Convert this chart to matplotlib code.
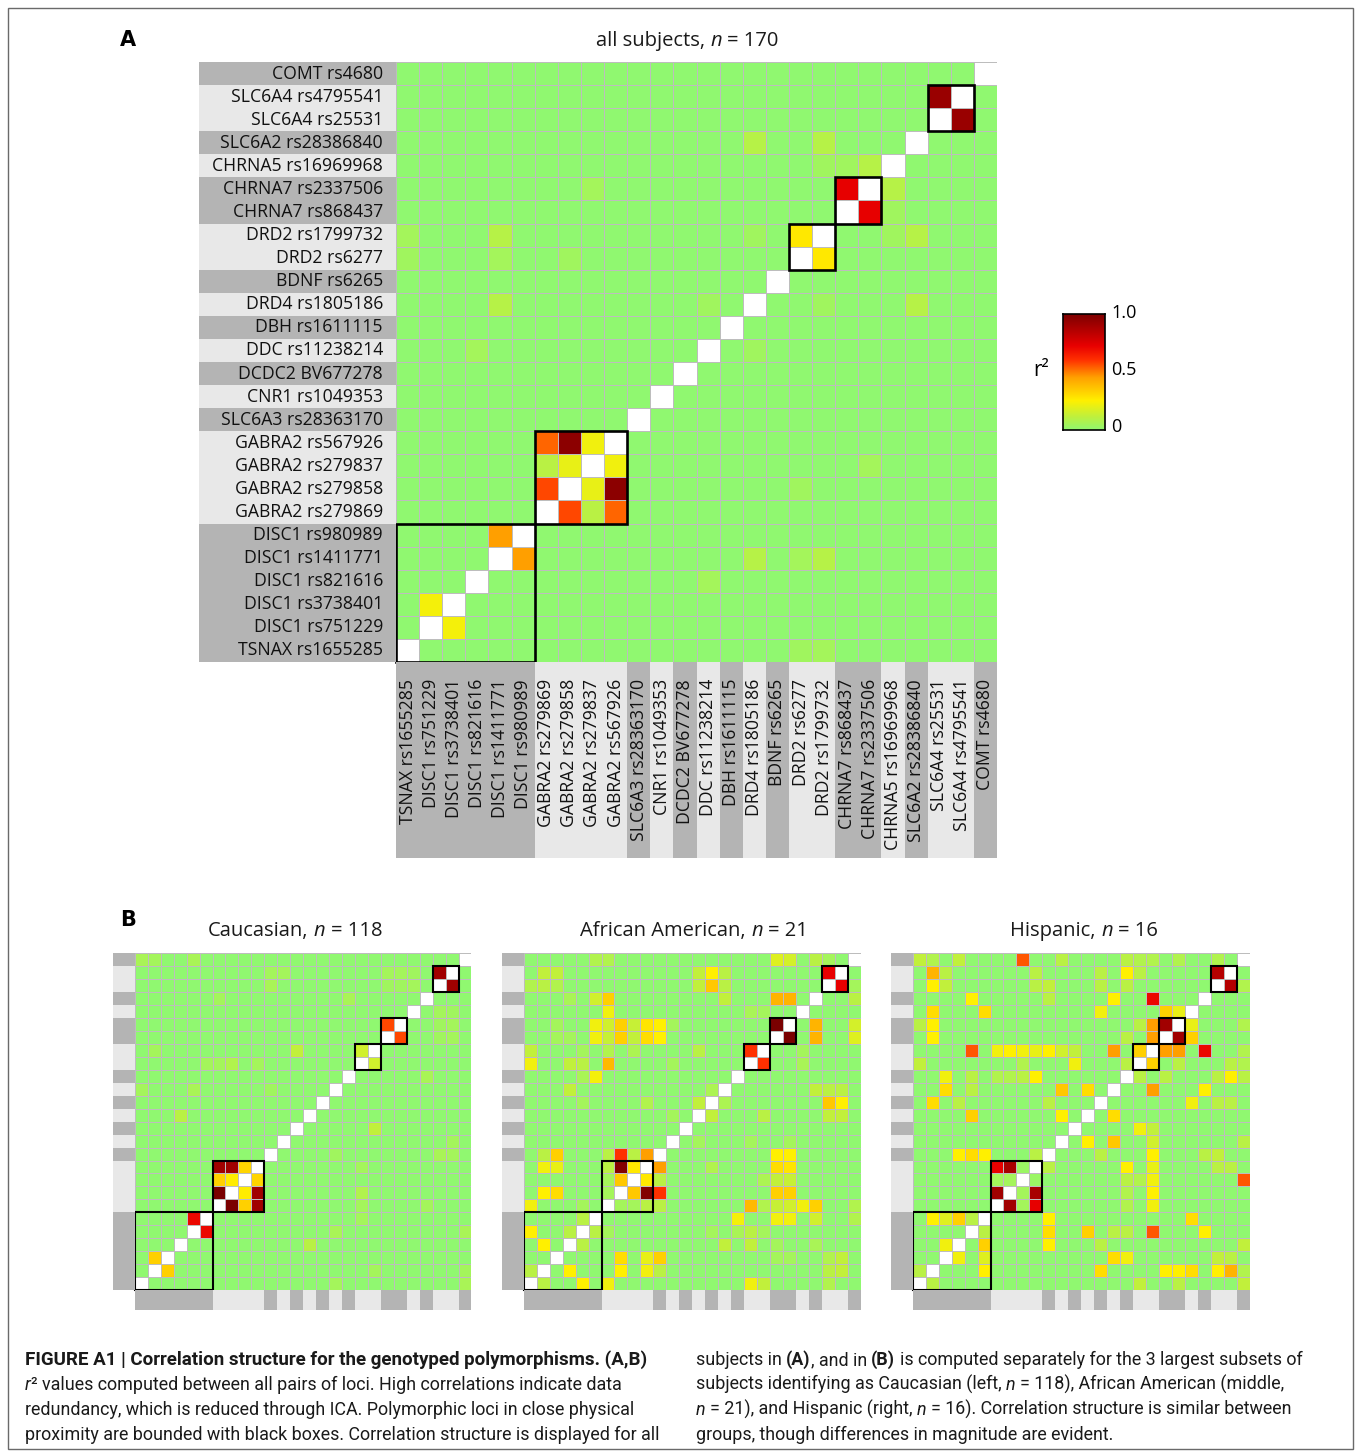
import numpy as np
import matplotlib
matplotlib.use("Agg")
import matplotlib.pyplot as plt
from matplotlib.colors import LinearSegmentedColormap
from matplotlib.patches import Rectangle
from matplotlib import font_manager

# ---------------------------------------------------------------- data
loci = ["TSNAX rs1655285", "DISC1 rs751229", "DISC1 rs3738401", "DISC1 rs821616",
        "DISC1 rs1411771", "DISC1 rs980989", "GABRA2 rs279869", "GABRA2 rs279858",
        "GABRA2 rs279837", "GABRA2 rs567926", "SLC6A3 rs28363170", "CNR1 rs1049353",
        "DCDC2 BV677278", "DDC rs11238214", "DBH rs1611115", "DRD4 rs1805186",
        "BDNF rs6265", "DRD2 rs6277", "DRD2 rs1799732", "CHRNA7 rs868437",
        "CHRNA7 rs2337506", "CHRNA5 rs16969968", "SLC6A2 rs28386840",
        "SLC6A4 rs25531", "SLC6A4 rs4795541", "COMT rs4680"]

# consecutive loci sharing a shaded band (multi-locus bands are boxed)
band_sizes = [6, 4, 1, 1, 1, 1, 1, 1, 1, 2, 2, 1, 1, 2, 1]

# r^2 between locus pairs (index into loci); unlisted pairs are ~0
r2_all = [
    (24, 23, 0.92), (20, 19, 0.72), (18, 17, 0.27),
    (9, 6, 0.53), (9, 7, 0.95), (9, 8, 0.22), (8, 6, 0.10), (8, 7, 0.20), (7, 6, 0.57),
    (5, 4, 0.45), (2, 1, 0.23),
    (22, 15, 0.09), (22, 18, 0.09), (21, 18, 0.04), (21, 19, 0.04), (21, 20, 0.09),
    (20, 8, 0.05), (18, 0, 0.05), (18, 4, 0.09), (18, 15, 0.04), (17, 0, 0.04),
    (17, 4, 0.05), (17, 7, 0.04), (15, 4, 0.09), (15, 13, 0.04), (13, 3, 0.05),
]

r2_caucasian = [
    (24, 23, 0.90), (20, 19, 0.57), (18, 17, 0.15),
    (9, 6, 0.90), (9, 7, 0.90), (9, 8, 0.32), (8, 6, 0.33), (8, 7, 0.26), (7, 6, 1.00),
    (5, 4, 0.70), (2, 1, 0.33),
    (25, 0, 0.06), (25, 1, 0.05), (25, 4, 0.06), (24, 10, 0.05), (24, 11, 0.05),
    (24, 19, 0.05), (24, 20, 0.05), (24, 21, 0.04), (23, 10, 0.06), (23, 19, 0.04),
    (23, 20, 0.04), (23, 21, 0.05), (22, 6, 0.05), (22, 16, 0.06), (18, 1, 0.05),
    (18, 12, 0.12), (17, 5, 0.05), (17, 6, 0.05), (17, 7, 0.08), (17, 9, 0.05),
    (15, 0, 0.05), (15, 4, 0.06), (15, 10, 0.04), (13, 3, 0.10),
]

r2_african_american = [
    (24, 23, 0.72), (20, 19, 1.00), (18, 17, 0.60),
    (9, 6, 0.10), (9, 7, 0.98), (9, 8, 0.27), (8, 6, 0.05), (8, 7, 0.35), (7, 6, 0.05),
    (5, 4, 0.10), (4, 3, 0.10), (4, 0, 0.25), (3, 1, 0.25), (1, 0, 0.10),
    (25, 5, 0.08), (25, 6, 0.08), (25, 19, 0.18), (25, 20, 0.16), (25, 22, 0.10),
    (25, 23, 0.05), (24, 1, 0.12), (24, 2, 0.12), (24, 13, 0.12), (24, 14, 0.25),
    (24, 15, 0.10), (23, 0, 0.08), (23, 1, 0.10), (23, 2, 0.08), (23, 13, 0.12),
    (23, 14, 0.35), (23, 15, 0.10), (22, 3, 0.06), (22, 5, 0.15), (22, 6, 0.33),
    (22, 15, 0.12), (22, 19, 0.40), (22, 20, 0.40), (21, 6, 0.22), (21, 17, 0.06),
    (21, 18, 0.05), (20, 2, 0.05), (20, 5, 0.22), (20, 6, 0.15), (20, 7, 0.33),
    (20, 8, 0.13), (20, 9, 0.28), (20, 10, 0.25), (20, 11, 0.05), (19, 2, 0.05),
    (19, 3, 0.05), (19, 5, 0.22), (19, 6, 0.13), (19, 7, 0.33), (19, 8, 0.12),
    (19, 9, 0.30), (19, 10, 0.25), (18, 0, 0.12), (18, 4, 0.05), (18, 6, 0.08),
    (18, 8, 0.07), (18, 13, 0.10), (17, 0, 0.22), (17, 3, 0.12), (17, 4, 0.10),
    (17, 6, 0.39), (17, 11, 0.05), (16, 4, 0.06), (16, 5, 0.23), (15, 3, 0.12),
    (15, 14, 0.07), (14, 4, 0.05), (14, 9, 0.08), (14, 13, 0.12), (13, 11, 0.05),
    (10, 1, 0.10), (10, 2, 0.33), (10, 6, 0.10), (10, 7, 0.60), (10, 8, 0.10),
    (10, 9, 0.45), (9, 1, 0.22), (9, 2, 0.20), (7, 1, 0.25), (7, 2, 0.30),
    (6, 0, 0.22), (6, 4, 0.05),
]

r2_hispanic = [
    (24, 23, 0.85), (20, 19, 0.90), (18, 17, 0.33),
    (9, 6, 0.72), (9, 7, 0.88), (9, 8, 0.03), (8, 6, 0.05), (8, 7, 0.05), (7, 6, 0.90),
    (5, 1, 0.25), (5, 2, 0.18), (5, 3, 0.33), (5, 4, 0.10), (3, 2, 0.22), (1, 0, 0.10),
    (25, 0, 0.12), (25, 1, 0.08), (25, 3, 0.12), (25, 8, 0.55), (25, 11, 0.10),
    (25, 16, 0.10), (25, 17, 0.08), (25, 18, 0.08), (25, 20, 0.08), (25, 23, 0.08),
    (24, 1, 0.40), (24, 2, 0.10), (24, 9, 0.10), (24, 14, 0.10), (24, 16, 0.25),
    (24, 17, 0.10), (23, 1, 0.25), (23, 2, 0.12), (23, 9, 0.10), (23, 10, 0.12),
    (23, 14, 0.10), (23, 16, 0.10), (22, 4, 0.25), (22, 10, 0.10), (22, 15, 0.25),
    (22, 18, 0.70), (21, 1, 0.30), (21, 5, 0.30), (21, 14, 0.22), (21, 19, 0.33),
    (21, 20, 0.20), (20, 0, 0.10), (20, 1, 0.25), (20, 17, 0.10), (20, 18, 0.45),
    (19, 1, 0.25), (19, 16, 0.10), (19, 18, 0.45), (18, 4, 0.55), (18, 6, 0.22),
    (18, 7, 0.25), (18, 8, 0.22), (18, 9, 0.20), (18, 10, 0.25), (18, 11, 0.15),
    (18, 12, 0.12), (18, 15, 0.45), (17, 0, 0.12), (17, 8, 0.08), (17, 12, 0.22),
    (17, 16, 0.10), (16, 2, 0.22), (16, 4, 0.10), (16, 6, 0.08), (16, 7, 0.08),
    (16, 8, 0.10), (16, 9, 0.25), (15, 2, 0.30), (15, 4, 0.10), (15, 11, 0.35),
    (15, 13, 0.30), (14, 1, 0.30), (14, 3, 0.10), (14, 10, 0.10), (13, 4, 0.33),
    (13, 11, 0.25), (10, 3, 0.25), (10, 4, 0.30), (10, 5, 0.25), (10, 9, 0.10),
]

panel_a_title = ("all subjects, ", "n", " = 170")
panel_b_titles = [("Caucasian, ", "n", " = 118"),
                  ("African American, ", "n", " = 21"),
                  ("Hispanic, ", "n", " = 16")]
colorbar_ticks = ["0", "0.5", "1.0"]

# ---------------------------------------------------------------- styling
W, H = 1357, 1453
fig = plt.figure(figsize=(W / 100, H / 100), dpi=100)
fig.patch.set_facecolor("white")
renderer = fig.canvas.get_renderer()

installed = {f.name for f in font_manager.fontManager.ttflist}
LABEL_FONT = ["Open Sans", "DejaVu Sans"]
CAP_FONT = ["Liberation Sans Narrow", "Roboto", "DejaVu Sans"]
CAP_FONT = [f for f in CAP_FONT if f in installed] or ["DejaVu Sans"]

cmap = LinearSegmentedColormap.from_list("r2", [
    (0.00, "#90f870"), (0.12, "#c2f03a"), (0.25, "#fff000"), (0.45, "#ffa000"),
    (0.60, "#ff3000"), (0.72, "#e80000"), (1.00, "#7a0000")])
cmap.set_bad("white")

DARK, LIGHT = "#b4b4b4", "#e8e8e8"
GRID = "#bdbdbd"


def rect(x0, y0, x1, y1):
    """Figure-fraction axes rectangle from pixel corners (origin top-left)."""
    return [x0 / W, 1 - y1 / H, (x1 - x0) / W, (y1 - y0) / H]


def build(pairs):
    m = np.zeros((26, 26))
    for a, b, v in pairs:
        m[a, b] = m[b, a] = v
    m[np.arange(26), np.arange(26)] = np.nan
    return m


band_shade = []
for k, n in enumerate(band_sizes):
    band_shade += [DARK if k % 2 == 0 else LIGHT] * n
band_starts = np.cumsum([0] + band_sizes[:-1])


def heatmap(ax, m, grid_lw, box_lw):
    ax.pcolormesh(np.arange(27), np.arange(27), np.ma.masked_invalid(m), cmap=cmap,
                  vmin=0, vmax=1, edgecolors=GRID, linewidth=grid_lw)
    ax.set_xlim(0, 26)
    ax.set_ylim(0, 26)
    ax.set_axis_off()
    for s, n in zip(band_starts, band_sizes):
        if n > 1:
            ax.add_patch(Rectangle((s, s), n, n, fill=False, ec="black", lw=box_lw,
                                   clip_on=False, zorder=5))


def space_width(size, family, **kw):
    t1 = fig.text(0, 0, "x x", fontsize=size, family=family, **kw)
    t2 = fig.text(0, 0, "xx", fontsize=size, family=family, **kw)
    w = t1.get_window_extent(renderer).width - t2.get_window_extent(renderer).width
    t1.remove()
    t2.remove()
    return w


def runs_text(runs, x, y, size, family, ha="left", color="#1a1a1a"):
    """Draw a line made of differently styled pieces, baseline at pixel y."""
    placed, cur = [], 0.0
    for s, st in runs:
        st = dict(st)
        sz = st.pop("fontsize", size)
        lead = len(s) - len(s.lstrip(" "))
        trail = len(s) - len(s.rstrip(" "))
        core = s.strip(" ")
        sw = space_width(sz, family, **st) if (lead or trail) else 0
        cur += lead * sw
        if core:
            t = fig.text(0, 0, core, fontsize=sz, family=family, color=color,
                         va="baseline", ha="left", **st)
            placed.append((t, cur))
            cur += t.get_window_extent(renderer).width
        cur += trail * sw
    x0 = x - cur / 2 if ha == "center" else x
    for t, off in placed:
        t.set_position(((x0 + off) / W, 1 - y / H))


N = {}
I = {"style": "italic"}
B = {"weight": "bold"}

# outer frame
fig.add_artist(Rectangle((8 / W, 1 - 1449 / H), (1353 - 8) / W, (1449 - 8) / H,
                         transform=fig.transFigure, fill=False, ec="#6a6a6a", lw=1.0))

# ---------------------------------------------------------------- panel A
ax = fig.add_axes(rect(396, 62, 997, 662))
heatmap(ax, build(r2_all), 0.6, 1.9)

ax_r = fig.add_axes(rect(199, 62, 396, 662))
ax_r.set_xlim(199, 396)
ax_r.set_ylim(0, 26)
ax_r.set_axis_off()
for i, lab in enumerate(loci):
    ax_r.axhspan(i, i + 1, color=band_shade[i], lw=0)
    ax_r.text(383, i + 0.5, lab, ha="right", va="center", fontsize=12.7,
              family=LABEL_FONT, color="#111111")

ax_c = fig.add_axes(rect(396, 662, 997, 858))
ax_c.set_xlim(0, 26)
ax_c.set_ylim(858, 662)
ax_c.set_axis_off()
for i, lab in enumerate(loci):
    ax_c.axvspan(i, i + 1, color=band_shade[i], lw=0)
    ax_c.text(i + 0.5, 679, lab, rotation=90, ha="center", va="top", fontsize=12.7,
              family=LABEL_FONT, color="#111111")

fig.text(120 / W, 1 - 46 / H, "A", fontsize=15, weight="bold", family="DejaVu Sans",
         va="baseline", ha="left")
runs_text([(panel_a_title[0], N), (panel_a_title[1], I), (panel_a_title[2], N)],
          687, 46, 14.5, LABEL_FONT, ha="center")

# colour bar
cax = fig.add_axes(rect(1063, 314, 1105, 430))
cax.imshow(np.linspace(0, 1, 256)[:, None], cmap=cmap, aspect="auto", origin="lower",
           extent=(0, 1, 0, 1))
cax.set_xticks([])
cax.set_yticks([])
for sp in cax.spines.values():
    sp.set_linewidth(1.2)
for lab, yy in zip(colorbar_ticks, [427, 370, 313]):
    fig.text(1111 / W, 1 - yy / H, lab, fontsize=13, family=LABEL_FONT, va="center",
             ha="left")
fig.text(1033 / W, 1 - 370 / H, "r²", fontsize=15, family=LABEL_FONT, va="center",
         ha="left")

# ---------------------------------------------------------------- panel B
fig.text(120 / W, 1 - 926 / H, "B", fontsize=15, weight="bold", family="DejaVu Sans",
         va="baseline", ha="left")
b_left = [134.8, 523.8, 912.8]
b_centers = [295, 694, 1084]
for x0, cx, pairs, title in zip(b_left, b_centers,
                                [r2_caucasian, r2_african_american, r2_hispanic],
                                panel_b_titles):
    x1 = x0 + 336.7
    y0, y1 = 953.3, 1290.0
    axb = fig.add_axes(rect(x0, y0, x1, y1))
    heatmap(axb, build(pairs), 0.5, 1.5)
    al = fig.add_axes(rect(x0 - 21.8, y0, x0, y1))
    al.set_xlim(0, 1)
    al.set_ylim(0, 26)
    al.set_axis_off()
    ab = fig.add_axes(rect(x0, y1, x1, y1 + 20))
    ab.set_xlim(0, 26)
    ab.set_ylim(0, 1)
    ab.set_axis_off()
    for i in range(26):
        al.axhspan(i, i + 1, color=band_shade[i], lw=0)
        ab.axvspan(i, i + 1, color=band_shade[i], lw=0)
    runs_text([(title[0], N), (title[1], I), (title[2], N)], cx, 936, 14.5,
              LABEL_FONT, ha="center")

# ---------------------------------------------------------------- caption
cs = 12.85
left_lines = [
    [("FIGURE A1 | Correlation structure for the genotyped polymorphisms. (A,B)",
      {"weight": "bold", "fontsize": 13.5})],
    [("r", I), ("²", N),
     (" values computed between all pairs of loci. High correlations indicate data", N)],
    [("redundancy, which is reduced through ICA. Polymorphic loci in close physical", N)],
    [("proximity are bounded with black boxes. Correlation structure is displayed for all", N)],
]
right_lines = [
    [("subjects in ", N), ("(A)", B), (", and in ", N), ("(B)", B),
     (" is computed separately for the 3 largest subsets of", N)],
    [("subjects identifying as Caucasian (left, ", N), ("n", I),
     (" = 118), African American (middle,", N)],
    [("n", I), (" = 21), and Hispanic (right, ", N), ("n", I),
     (" = 16). Correlation structure is similar between", N)],
    [("groups, though differences in magnitude are evident.", N)],
]
for k, line in enumerate(left_lines):
    runs_text(line, 25, 1365 + 25 * k, cs, CAP_FONT)
for k, line in enumerate(right_lines):
    runs_text(line, 696, 1365 + 25 * k, cs, CAP_FONT)

fig.savefig("out.png", dpi=100)
